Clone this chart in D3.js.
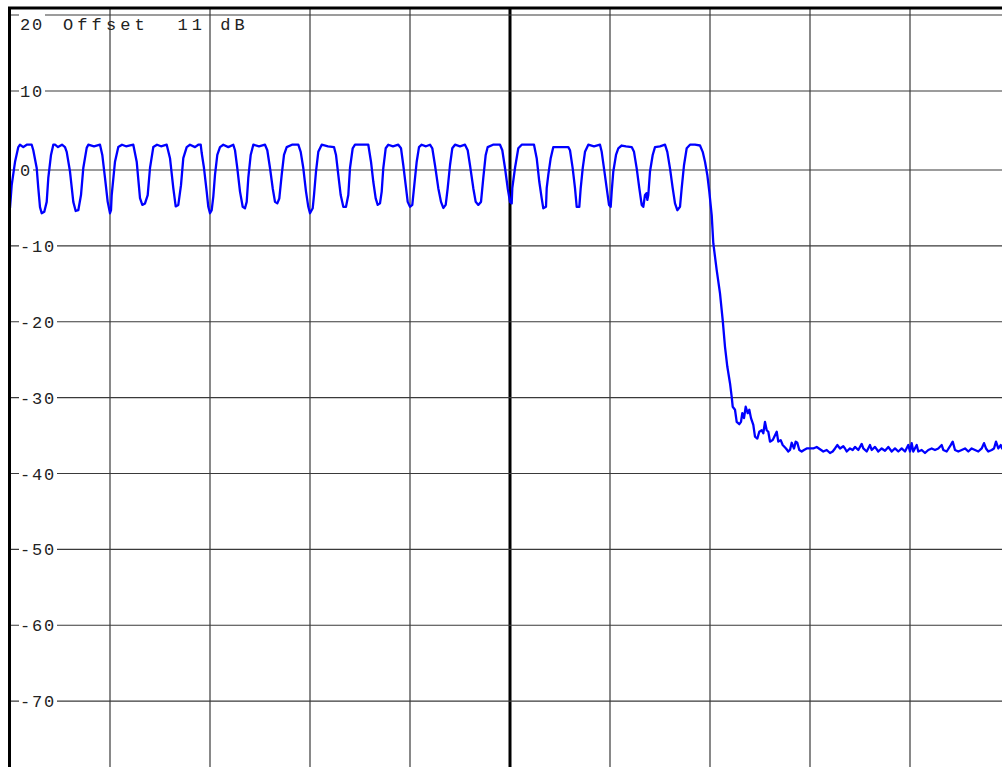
<!DOCTYPE html>
<html>
<head>
<meta charset="utf-8">
<script src="https://cdn.jsdelivr.net/npm/d3@7"></script>
<style>
  body { margin: 0; background: #fff; }
  svg { display: block; }
</style>
</head>
<body>
<div id="chart"></div>
<script>
// level ticks (dB) and frequency divisions
const levelTicks = [20, 10, 0, -10, -20, -30, -40, -50, -60, -70];
const divisions = [0, 100, 200, 300, 400, 500, 600, 700, 800, 900, 1000];
const headerLabel = 'Offset  11 dB';

// trace: [sweep point, level dB]
const passband = [
  [0,-5.0],[1.7,-2.0],[5,1.0],[8.3,2.9],[10,3.2],[13.3,2.9],[16.7,3.2],[21.7,3.2],[23.3,2.5],[26.7,0.25],[28.3,-2.4],[30,-4.9],[31.7,-5.7],
  [34.3,-5.5],[36.7,-4.2],[38.3,-1.05],[41,1.9],[43.3,3.2],[45,3.2],[48,2.9],[52,3.2],[55,2.9],[56.7,2.3],[60,-0.2],[63.3,-4.2],[65.7,-5.4],
  [68.3,-5.3],[71,-3.3],[73.3,0.25],[76.7,2.8],[78.3,3.2],[84,3.0],[90,3.2],[92.3,1.9],[95,-1.05],[97.7,-4.2],[100,-5.7],
  [101,-5.3],[101.7,-3.3],[105,1.05],[108.3,2.9],[112,3.2],[116,3.0],[123.3,3.2],[126.7,1.05],[130,-3.7],[132.3,-4.6],[135,-4.4],[137.7,-3.3],
  [140,0.25],[143.3,2.9],[147,3.2],[151,3.0],[156.7,3.2],[160,1.5],[163.3,-2.4],[165.7,-4.8],[168.3,-4.6],[171,-2.0],
  [173.3,1.5],[176.7,2.9],[180,3.2],[185,2.9],[188.3,3.2],[190.7,3.2],[191.7,2.15],[194,0.25],[196.7,-2.85],[198.3,-4.85],[200,-5.7],
  [201.7,-5.3],[203.3,-3.5],[205,-0.65],[207.3,1.9],[210,2.9],[213.3,3.2],[218.3,2.9],[223.3,3.2],[225,2.5],[227.3,0.25],[230,-2.85],[232.7,-4.85],[235,-5.05],
  [236.7,-4.2],[238.3,-1.05],[240.7,1.9],[243.3,3.2],[249,3.0],[255,3.2],[257.3,2.5],[260,0.25],[262.7,-2.4],[265,-4.2],[267.3,-4.4],
  [269.3,-3.75],[271.7,-0.65],[274,1.9],[276.7,2.9],[282,3.2],[288.3,3.2],[290.7,2.3],[293.3,0.25],[296,-2.85],[298.3,-4.85],[300,-5.7],
  [302.7,-5.05],[304,-3.3],[306,-0.2],[308.3,2.3],[311.7,3.2],[318,3.0],[324,2.9],[326,1.9],[328.3,-0.65],[330.7,-3.3],[333.3,-4.85],[336,-4.85],
  [338.3,-3.3],[340,0.25],[342.7,2.75],[345,3.2],[351,3.2],[358.3,3.2],[361,1.05],[363.3,-1.55],[365.7,-3.75],[367.7,-4.6],[370,-4.4],
  [371.7,-2.85],[373.3,0.25],[375.7,2.75],[378.3,3.2],[383,3.0],[388.3,3.2],[391,2.75],[393.3,0.6],[395.7,-2.0],[397.7,-4.2],[400,-4.85],
  [402.3,-4.6],[404.3,-2.0],[406.7,1.05],[409,2.9],[411.7,3.2],[416,3.0],[420,3.2],[422.3,2.75],[425,0.6],[428.3,-2.4],[431,-4.2],[433.3,-5.0],
  [435.7,-4.6],[437.7,-2.4],[440,0.6],[442.3,2.75],[445,3.2],[450,3.0],[455,3.2],[457.7,2.5],[460,0.6],[463.3,-2.4],[465.7,-4.2],[468.3,-4.6],
  [471,-4.2],[473.3,-1.05],[475.7,1.9],[477.7,2.9],[483,3.2],[490,3.2],[492.3,2.5],[495,0.25],[497.7,-2.4],[500,-4.2],[501.7,-4.4],
  [502.3,-2.4],[505,0.25],[508.3,2.75],[511.7,3.2],[524,3.2],[526.7,1.5],[529.3,-1.55],[531.7,-3.75],[533.3,-5.05],[536,-4.85],
  [536.7,-2.4],[538.3,-0.65],[540.7,1.5],[543.3,2.9],[546.7,2.9],[552,2.9],[558.3,2.9],[560,2.5],[562.7,0.2],[565,-2.4],[566.7,-4.85],[569.3,-4.85],
  [570.7,-2.4],[572.7,0.2],[575,2.3],[578.3,3.2],[584,3.0],[590,3.2],[591.7,2.3],[594,0.2],[596.7,-2.4],[599,-4.6],[600.7,-4.85],
  [601.7,-2.85],[603.3,-0.2],[606,1.9],[608.3,2.75],[611.7,3.1],[616,3.0],[621.7,2.9],[624,2.3],[626.7,0.2],[629.3,-2.4],[631.7,-4.6],[633.3,-4.85],
  [635,-3.3],[636.7,-3.05],[637.3,-3.95],[638.3,-3.3],[640,-0.2],[642.7,1.9],[645,2.9],[650,3.0],[655,3.2],[657.3,2.3],[660,0.2],[662.7,-2.4],[665,-4.4],[667.3,-5.3],
  [670,-4.85],[671.7,-2.4],[674,0.6],[676.7,2.75],[680,3.2],[685,3.2],[690,3.1]
];

const rolloff = [
  [692.7,2.3],[695,1.05],[697.3,-0.65],[699.3,-2.85],[701.7,-5.95],[703.3,-9.65],[706.7,-13.2],[710,-16.25],[712.7,-19.8],[715,-23.3],
  [717.3,-25.9],[720,-28.1],[721.7,-29.9],[722.7,-31.2],[725,-31.6],[726.7,-33.2],[729.3,-33.5],[731,-33.2],[732.3,-32.05],[734,-32.7],
  [735.7,-31.2],[737.7,-32.05],[739.3,-31.6],[741,-32.7],[743.3,-33.6],[745,-35.15],[747.3,-35.4],[749.3,-34.5],[751.7,-34.3],[753.3,-34.7],
  [755,-33.2],[756.7,-34.3],[758.3,-34.5],[760,-35.8],[762.7,-35.6],[764.3,-35.15],[766.7,-34.5],[768.3,-35.8],[770.7,-35.6]
];

const noiseFloor = [
  [772.7,-36.25],[776,-36.7],[778.3,-37.1],[780,-36.9],[781.7,-35.95],[784,-36.7],[785.7,-35.8],[787.3,-35.95],[789.3,-36.9],[791.7,-37.1],
  [794,-36.9],[796.7,-36.7],[800,-36.7],[803.3,-36.7],[806.7,-36.5],[810,-36.8],[813.3,-37.1],[816.7,-36.9],[820,-37.3],[822.7,-37.1],
  [825,-36.7],[827.3,-36.25],[830,-36.7],[833.3,-36.4],[835,-36.7],[836.7,-37.1],[840,-36.7],[842.7,-36.9],[845,-36.5],[848.3,-36.9],
  [851.7,-36.1],[853.3,-36.7],[856.7,-37.1],[860,-36.25],[861.7,-36.9],[865,-36.5],[868.3,-37.1],[871.7,-36.7],[875,-37.0],[878.3,-36.5],
  [881.7,-37.1],[885,-36.7],[888.3,-37.1],[891.7,-36.7],[895,-37.1],[898.3,-36.25],[900,-37.1],[901.7,-36.0],[903.3,-37.1],[906.7,-36.25],
  [908.3,-37.1],[911.7,-36.9],[915,-37.3],[918.3,-36.9],[921.7,-36.7],[925,-36.9],[928.3,-36.7],[931.7,-36.25],[933.3,-36.9],[936.7,-37.1],
  [940.7,-36.25],[942.7,-35.8],[945,-36.9],[948.3,-37.1],[951.7,-36.9],[955,-36.7],[958.3,-37.1],[961.7,-36.7],[965,-36.9],[968.3,-37.1],
  [971.7,-36.7],[974,-36.0],[976,-36.7],[978.3,-37.1],[981.7,-36.9],[984,-36.7],[986,-35.8],[988.3,-36.7],[990.7,-36.25],[992,-36.7],
  [995,-36.5],[1000,-36.7]
];

//set variables
const w = 1002;
const h = 767;

// screen grid is a bit uneven above 0 dB, so piecewise scale
const xScale = d3.scaleLinear().domain([0, 1000]).range([10, 1010]);
const yScale = d3.scaleLinear().domain([20, 10, 0, -80]).range([15, 91, 170, 777]);

const svg = d3.select('#chart')
  .append('svg')
  .attr('width', w)
  .attr('height', h);

//vertical grid
svg.append('g')
  .selectAll('line')
  .data(divisions.slice(1))
  .enter()
  .append('line')
  .attr('x1', d => xScale(d))
  .attr('x2', d => xScale(d))
  .attr('y1', 8)
  .attr('y2', h)
  .style('stroke', d => d === 500 ? '#000' : '#3a3a3a')
  .style('stroke-width', d => d === 500 ? 3 : 1.2);

//horizontal grid
svg.append('g')
  .selectAll('line')
  .data(levelTicks)
  .enter()
  .append('line')
  .attr('x1', 10)
  .attr('x2', w)
  .attr('y1', d => yScale(d))
  .attr('y2', d => yScale(d))
  .style('stroke', '#3a3a3a')
  .style('stroke-width', 1.2);

//trace
const line = d3.line()
  .x(d => xScale(d[0]))
  .y(d => yScale(d[1]));

svg.append('path')
  .datum(passband.concat(rolloff, noiseFloor))
  .attr('d', line)
  .style('fill', 'none')
  .style('stroke', '#0000ff')
  .style('stroke-width', 2.3)
  .style('stroke-linejoin', 'round');

//level labels, break the grid line
const labels = svg.append('g')
  .selectAll('g')
  .data(levelTicks)
  .enter()
  .append('g');

labels.append('rect')
  .attr('x', 19)
  .attr('y', d => yScale(d) - 2)
  .attr('width', d => d === 0 ? 14 : (d < 0 ? 38 : 26))
  .attr('height', 4)
  .style('fill', '#fff');

labels.append('text')
  .attr('x', d => d < 0 ? 20 : (d === 0 ? 20 : 20))
  .attr('y', d => Math.max(yScale(d), 24))
  .attr('dy', '0.36em')
  .style('font-family', '"Liberation Mono", "DejaVu Sans Mono", monospace')
  .style('font-size', '17px')
  .style('letter-spacing', '1.8px')
  .style('fill', '#222')
  .text(d => d);

//header
svg.append('text')
  .attr('x', 63)
  .attr('y', 24)
  .attr('dy', '0.36em')
  .style('font-family', '"Liberation Mono", "DejaVu Sans Mono", monospace')
  .style('font-size', '17px')
  .style('letter-spacing', '4.1px')
  .style('fill', '#222')
  .style('white-space', 'pre')
  .text(headerLabel);

//frame
svg.append('line').attr('x1', 8).attr('x2', w).attr('y1', 8).attr('y2', 8)
  .style('stroke', '#000').style('stroke-width', 3);
svg.append('line').attr('x1', 9.5).attr('x2', 9.5).attr('y1', 7).attr('y2', h)
  .style('stroke', '#000').style('stroke-width', 3);
</script>
</body>
</html>
